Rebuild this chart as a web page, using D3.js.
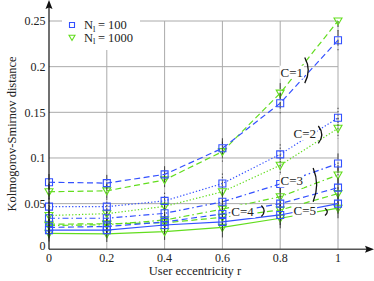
<!DOCTYPE html>
<html>
<head>
<meta charset="utf-8">
<script src="https://cdn.jsdelivr.net/npm/d3@7"></script>
<style>
  body { margin: 0; background: #fff; }
  svg { display: block; }
  svg text { font-family: 'Liberation Serif', serif; }
</style>
</head>
<body>
<svg id="chart" width="374" height="281"></svg>
<script>
// data
var xs = [0, 0.2, 0.4, 0.6, 0.8, 1];

var blue = [
	[0.0734, 0.0725, 0.082, 0.1106, 0.160, 0.229],   // C=1
	[0.0467, 0.0467, 0.053, 0.072, 0.104, 0.144],    // C=2
	[0.034, 0.034, 0.0394, 0.052, 0.0715, 0.094],    // C=3
	[0.024, 0.025, 0.030, 0.0387, 0.050, 0.0675],    // C=4
	[0.021, 0.021, 0.0266, 0.030, 0.0376, 0.050]     // C=5
];
var green = [
	[0.063, 0.064, 0.076, 0.107, 0.171, 0.250],
	[0.037, 0.039, 0.047, 0.063, 0.092, 0.1325],
	[0.026, 0.027, 0.032, 0.044, 0.0576, 0.0814],
	[0.0275, 0.028, 0.029, 0.035, 0.043, 0.061],
	[0.0175, 0.017, 0.0193, 0.024, 0.034, 0.045]
];
var errs = [0.009, 0.009, 0.009, 0.011, 0.011, 0.011];

var cLabels = ['C=1', 'C=2', 'C=3', 'C=4', 'C=5'];
var labelPos = [[0.84, 0.194], [0.885, 0.1265], [0.84, 0.075], [0.67, 0.0415], [0.885, 0.0425]];
var bracketSpan = [[0.21, 0.182], [0.135, 0.116], [0.089, 0.052], [0.048, 0.036], [0.045, 0.037]];
var bracketX = [0.885, 0.932, 0.914, 0.735, 0.955];

var yTicks = [0, 0.05, 0.1, 0.15, 0.2, 0.25];
var xTicks = [0, 0.2, 0.4, 0.6, 0.8, 1];
var dashes = ['6,3.5', '1.3,2', '6,3,1.5,3', '6,3.5', null];

var svg = d3.select('#chart');
var x = d3.scaleLinear().domain([0, 1]).range([49, 338]);
var y = d3.scaleLinear().domain([0, 0.25]).range([249.3, 21]);
var blueC = '#3350ff', greenC = '#62dd1e';

// grid
svg.append('g').selectAll('line').data(xTicks.slice(1)).enter().append('line')
	.attr('x1', d => x(d)).attr('x2', d => x(d)).attr('y1', y(0)).attr('y2', y(0.25))
	.attr('stroke', '#aaa').attr('stroke-width', 1);
svg.append('g').selectAll('line').data(yTicks.slice(1)).enter().append('line')
	.attr('x1', x(0)).attr('x2', x(1)).attr('y1', d => y(d)).attr('y2', d => y(d))
	.attr('stroke', '#aaa').attr('stroke-width', 1);

var line = d3.line().x((d, i) => x(xs[i])).y(d => y(d));

var plot = svg.append('g');
function series(vals, color, marker) {
	vals.forEach(function(v, c) {
		// error bars, black, same dash as the line
		plot.append('g').selectAll('line').data(v).enter().append('line')
			.attr('x1', (d, i) => x(xs[i])).attr('x2', (d, i) => x(xs[i]))
			.attr('y1', (d, i) => y(Math.min(0.25, d + errs[i])))
			.attr('y2', (d, i) => y(d - errs[i]))
			.attr('stroke', '#222').attr('stroke-width', 0.8)
			.attr('stroke-dasharray', dashes[c]);
	});
	vals.forEach(function(v, c) {
		plot.append('path').datum(v)
			.attr('d', line)
			.attr('fill', 'none').attr('stroke', color).attr('stroke-width', 1.2)
			.attr('stroke-dasharray', dashes[c]);
		plot.append('g').selectAll('path').data(v).enter().append('path')
			.attr('transform', (d, i) => 'translate(' + x(xs[i]) + ',' + y(d) + ')')
			.attr('d', marker)
			.attr('fill', 'none').attr('stroke', color).attr('stroke-width', 1.1);
	});
}
series(green, greenC, 'M-4,-3L4,-3L0,4Z');
series(blue, blueC, 'M-3.5,-3.5H3.5V3.5H-3.5Z');

// C labels with their brackets
var lab = svg.append('g');
cLabels.forEach(function(t, i) {
	var tx = lab.append('text')
		.attr('x', x(labelPos[i][0])).attr('y', y(labelPos[i][1]))
		.attr('text-anchor', 'middle').attr('dy', '0.35em')
		.attr('fill', '#222').style('font-size', '13px').text(t);
	var bb = tx.node().getBBox();
	lab.insert('rect', 'text')
		.attr('x', bb.x - 1).attr('y', bb.y + 1).attr('width', bb.width + 2).attr('height', bb.height - 2)
		.attr('fill', '#fff');
	var bx = x(bracketX[i]), y1 = y(bracketSpan[i][0]), y2 = y(bracketSpan[i][1]);
	var bulge = Math.min(7, (y2 - y1) * 0.22 + 3);
	lab.append('path')
		.attr('d', 'M' + bx + ',' + y1 + 'Q' + (bx + bulge) + ',' + ((y1 + y2) / 2) + ' ' + bx + ',' + y2)
		.attr('fill', 'none').attr('stroke', '#111').attr('stroke-width', 1.3);
});

// axes
svg.append('line').attr('x1', x(0)).attr('x2', 368).attr('y1', y(0)).attr('y2', y(0))
	.attr('stroke', '#555').attr('stroke-width', 1.6);
svg.append('path').attr('d', 'M374,' + y(0) + 'L365,' + (y(0) - 3.5) + 'L366.5,' + y(0) + 'L365,' + (y(0) + 3.5) + 'Z')
	.attr('fill', '#111');
svg.append('line').attr('x1', x(0)).attr('x2', x(0)).attr('y1', y(0)).attr('y2', 6)
	.attr('stroke', '#111').attr('stroke-width', 1.2);
svg.append('path').attr('d', 'M' + x(0) + ',0L' + (x(0) - 3.5) + ',9L' + x(0) + ',7.5L' + (x(0) + 3.5) + ',9Z')
	.attr('fill', '#111');

// tick labels
svg.append('g').selectAll('text').data(yTicks).enter().append('text')
	.attr('x', 45.5).attr('y', d => y(d) - (d === 0 ? 4 : 0)).attr('dy', '0.35em')
	.attr('text-anchor', 'end').attr('fill', '#222').style('font-size', '12px')
	.text(d => d3.format('')(d));
svg.append('g').selectAll('text').data(xTicks).enter().append('text')
	.attr('x', d => x(d)).attr('y', 262)
	.attr('text-anchor', 'middle').attr('fill', '#222').style('font-size', '12px')
	.text(d => d3.format('')(d));

svg.append('text').attr('x', 195).attr('y', 275).attr('text-anchor', 'middle')
	.attr('fill', '#222').style('font-size', '12.5px').text('User eccentricity r');
svg.append('text').attr('transform', 'translate(16,134) rotate(-90)').attr('text-anchor', 'middle')
	.attr('fill', '#222').style('font-size', '12.5px').text('Kolmogorov-Smirnov distance');

// legend
var leg = svg.append('g');
leg.append('rect').attr('x', 62).attr('y', 14).attr('width', 78).attr('height', 36).attr('fill', '#fff');
var legItems = [['100', blueC, 'M-2.5,-2.5H2.5V2.5H-2.5Z'], ['1000', greenC, 'M-3,-2.2L3,-2.2L0,3Z']];
legItems.forEach(function(it, i) {
	var ly = 25 + i * 12.5;
	leg.append('path').attr('transform', 'translate(72,' + ly + ')').attr('d', it[2])
		.attr('fill', 'none').attr('stroke', it[1]).attr('stroke-width', 1.1);
	var t = leg.append('text').attr('x', 84).attr('y', ly).attr('dy', '0.35em')
		.attr('fill', '#222').style('font-size', '12.5px');
	t.append('tspan').text('N');
	t.append('tspan').attr('dy', '2.5').style('font-size', '8.5px').text('l');
	t.append('tspan').attr('dy', '-2.5').text('\u2009= ' + it[0]);
});
</script>
</body>
</html>
